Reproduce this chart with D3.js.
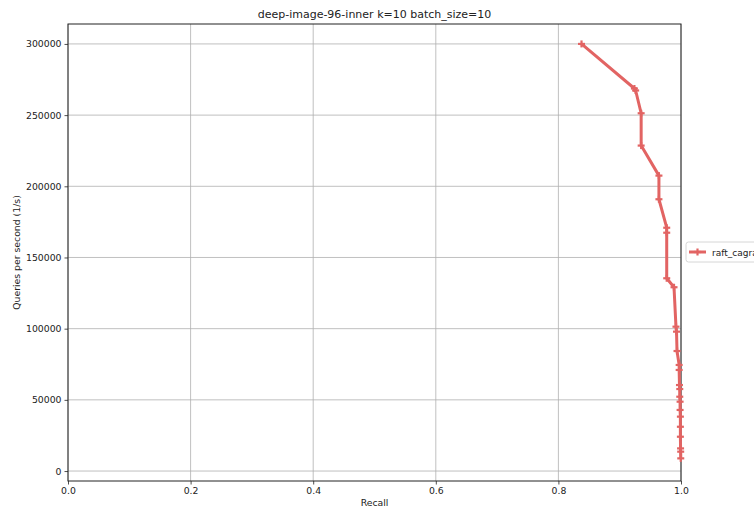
<!DOCTYPE html>
<html><head><meta charset="utf-8">
<script src="https://cdn.jsdelivr.net/npm/d3@7"></script>
<style>body{margin:0;background:#fff;}svg{display:block;font-family:"DejaVu Sans",sans-serif;}</style>
</head><body>
<svg id="c" width="754" height="510"></svg>
<script>
const title = "deep-image-96-inner k=10 batch_size=10";
const seriesName = "raft_cagra";
const recall = [0.8377,0.924,0.926,0.935,0.935,0.964,0.964,0.9767,0.9767,0.9767,0.9886,0.9918,0.9927,0.9935,0.997,0.997,0.9975,0.998,0.998,0.9985,0.9985,0.999,0.999,0.999,0.9993,0.9995,0.9996];
const qps = [300000,268700,267300,251300,228600,207500,190900,170900,167400,135400,129100,101400,97900,84300,74500,71000,60400,57600,52200,48700,42900,38200,31100,24100,15900,13600,8900];
const xTicks = [0,0.2,0.4,0.6,0.8,1.0];
const yTicks = [0,50000,100000,150000,200000,250000,300000];

const svg = d3.select("#c");
const L=68,R=681,T=24,B=481;
const x = d3.scaleLinear().domain([0,1]).range([L,R]);
const y = d3.scaleLinear().domain([-7000,314000]).range([B,T]);
const col = "#e26463";

// grid
svg.append("g").selectAll("line").data(xTicks).join("line")
  .attr("x1",d=>x(d)).attr("x2",d=>x(d)).attr("y1",T).attr("y2",B)
  .attr("stroke","#b0b0b0").attr("stroke-width",0.8);
svg.append("g").selectAll("line").data(yTicks).join("line")
  .attr("y1",d=>y(d)).attr("y2",d=>y(d)).attr("x1",L).attr("x2",R)
  .attr("stroke","#b0b0b0").attr("stroke-width",0.8);

// axes
const xa = svg.append("g").attr("transform",`translate(0,${B})`)
  .call(d3.axisBottom(x).tickValues(xTicks).tickFormat(d3.format(".1f")).tickSize(3.5).tickPadding(3));
const ya = svg.append("g").attr("transform",`translate(${L},0)`)
  .call(d3.axisLeft(y).tickValues(yTicks).tickFormat(d=>String(d)).tickSize(3.5).tickPadding(3));
[xa,ya].forEach(a=>{a.select(".domain").remove();a.selectAll("text").attr("font-size","9.3px").attr("fill","#222").attr("font-family","DejaVu Sans");a.selectAll("line").attr("stroke","#222").attr("stroke-width",0.8);});

// frame
svg.append("rect").attr("x",L).attr("y",T).attr("width",R-L).attr("height",B-T)
  .attr("fill","none").attr("stroke","#222").attr("stroke-width",1);

// line
const pts = recall.map((r,i)=>[r,qps[i]]);
svg.append("path").datum(pts)
  .attr("d",d3.line().x(d=>x(d[0])).y(d=>y(d[1])))
  .attr("fill","none").attr("stroke",col).attr("stroke-width",3).attr("stroke-linejoin","round");
const m = svg.append("g");
pts.forEach(d=>{
  const cx=x(d[0]), cy=y(d[1]);
  m.append("line").attr("x1",cx-3.5).attr("x2",cx+3.5).attr("y1",cy).attr("y2",cy).attr("stroke",col).attr("stroke-width",2.2);
  m.append("line").attr("x1",cx).attr("x2",cx).attr("y1",cy-3.5).attr("y2",cy+3.5).attr("stroke",col).attr("stroke-width",2.2);
});

// labels
svg.append("text").attr("x",(L+R)/2).attr("y",18).attr("text-anchor","middle")
  .attr("font-size","11px").attr("fill","#222").text(title);
svg.append("text").attr("x",(L+R)/2).attr("y",506).attr("text-anchor","middle")
  .attr("font-size","9.3px").attr("fill","#222").text("Recall");
svg.append("text").attr("transform",`translate(20,${(T+B)/2}) rotate(-90)`).attr("text-anchor","middle")
  .attr("font-size","9.3px").attr("fill","#222").text("Queries per second (1/s)");

// legend
const lg = svg.append("g");
lg.append("rect").attr("x",686).attr("y",242).attr("width",90).attr("height",20).attr("rx",2.5)
  .attr("fill","#fff").attr("stroke","#cccccc").attr("stroke-width",0.8);
lg.append("line").attr("x1",689).attr("x2",706).attr("y1",252).attr("y2",252).attr("stroke",col).attr("stroke-width",3);
lg.append("line").attr("x1",694).attr("x2",701).attr("y1",252).attr("y2",252).attr("stroke",col).attr("stroke-width",2.2);
lg.append("line").attr("x1",697.5).attr("x2",697.5).attr("y1",248.5).attr("y2",255.5).attr("stroke",col).attr("stroke-width",2.2);
lg.append("text").attr("x",712).attr("y",255.5).attr("font-size","9px").attr("fill","#222").text(seriesName);
</script>
</body></html>
